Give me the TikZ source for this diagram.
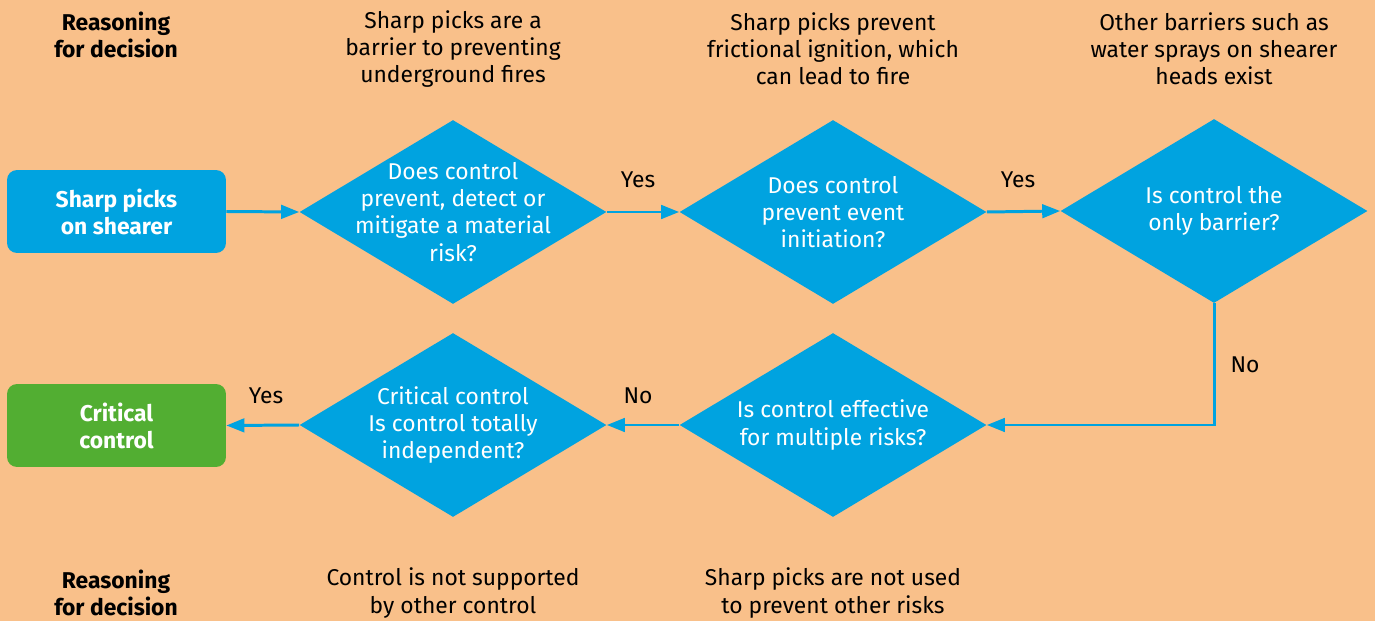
\documentclass[tikz,border=0pt]{standalone}
\usepackage{fontspec}
\setmainfont{Fira Sans}
\usetikzlibrary{shapes.geometric,arrows.meta}
\definecolor{bgpeach}{RGB}{249,192,138}
\definecolor{flowblue}{RGB}{0,163,224}
\definecolor{flowgreen}{RGB}{82,174,50}
\begin{document}
\begin{tikzpicture}[x=0.02cm,y=-0.02cm,
  txt/.style={align=center,font=\fontsize{13}{15.4}\selectfont,inner sep=0pt,text=black},
  wtxt/.style={align=center,font=\fontsize{13}{15.4}\selectfont,inner sep=0pt,text=white},
  btxt/.style={align=center,font=\bfseries\fontsize{13}{15.4}\selectfont,inner sep=0pt},
  boxnode/.style={rounded corners=0.2cm,minimum width=4.38cm,minimum height=1.66cm,inner sep=0pt,
    font=\bfseries\fontsize{13}{15.4}\selectfont,text=white,align=center},
  dia/.style={diamond,fill=flowblue,minimum width=6.14cm,minimum height=3.68cm,inner sep=0pt},
  conn/.style={draw=flowblue,line width=1.7pt,-{Triangle[length=0.36cm,width=0.27cm]}},
  lbl/.style={font=\fontsize{13}{15.4}\selectfont,inner sep=0pt}
]
\fill[bgpeach] (0,0) rectangle (1375,621);
\useasboundingbox (0,0) rectangle (1375,621);

% top reasoning texts
\node[btxt] (r1) at (116,35) {Reasoning\\for decision};
\node[txt] (t1) at (453,49) {Sharp picks are a\\barrier to preventing\\underground fires};
\node[txt] (t2) at (833,49) {Sharp picks prevent\\frictional ignition, which\\can lead to fire};
\node[txt] (t3) at (1214,49) {Other barriers such as\\water sprays on shearer\\heads exist};

% bottom reasoning texts
\node[btxt] (r2) at (116,593) {Reasoning\\for decision};
\node[txt] (t4) at (453,593) {Control is not supported\\by other control};
\node[txt] (t5) at (833,593) {Sharp picks are not used\\to prevent other risks};

% boxes
\node[boxnode,fill=flowblue] (start) at (116.5,211.5) {Sharp picks\\on shearer};
\node[boxnode,fill=flowgreen] (crit) at (116.5,425.5) {Critical\\control};

% diamonds
\node[dia] (d1) at (453,212) {};
\node[dia] (d2) at (833,212) {};
\node[dia] (d3) at (1214,211) {};
\node[dia] (d4) at (453,425) {};
\node[dia] (d5) at (833,425) {};

\node[wtxt] (q1) at (d1) {Does control\\prevent, detect or\\mitigate a material\\risk?};
\node[wtxt] (q2) at (d2) {Does control\\prevent event\\initiation?};
\node[wtxt] (q3) at (d3) {Is control the\\only barrier?};
\node[wtxt] (q4) at (d4) {Critical control\\Is control totally\\independent?};
\node[wtxt] (q5) at (d5) {Is control effective\\for multiple risks?};

% connectors
\draw[conn] (start.east) -- (d1.west);
\draw[conn] (d1.east) -- (d2.west);
\draw[conn] (d2.east) -- (d3.west);
\draw[conn] (d3.south) |- (d5.east);
\draw[conn] (d5.west) -- (d4.east);
\draw[conn] (d4.west) -- (crit.east);

% connector labels
\node[lbl] (y1) at (638,180) {Yes};
\node[lbl] (y2) at (1018,180) {Yes};
\node[lbl] (n1) at (1245,365) {No};
\node[lbl] (n2) at (638,396) {No};
\node[lbl] (y3) at (266,396) {Yes};
\end{tikzpicture}
\end{document}
